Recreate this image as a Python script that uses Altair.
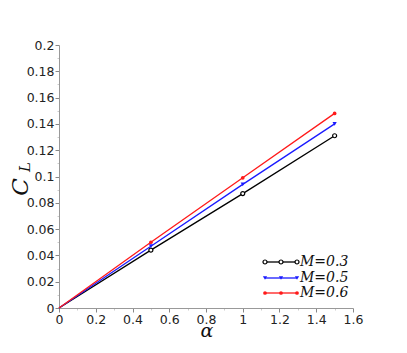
import altair as alt
import pandas as pd

alpha = [0, 0.5, 1.0, 1.5]
cl_03 = [0, 0.044, 0.087, 0.131]
cl_05 = [0, 0.047, 0.094, 0.140]
cl_06 = [0, 0.050, 0.099, 0.148]
labels = ["M=0.3", "M=0.5", "M=0.6"]
colors = ["#000000", "#1a1aff", "#ff1a1a"]
x_ticks = [round(0.1 * i, 1) for i in range(17)]
y_ticks = [round(0.01 * i, 2) for i in range(21)]

rows = []
for lab, vals in zip(labels, [cl_03, cl_05, cl_06]):
    for a, v in zip(alpha, vals):
        rows.append({"alpha": a, "cl": v, "series": lab})
df = pd.DataFrame(rows)

W, H = 294, 263
xs = alt.Scale(domain=[0, 1.6], nice=False, zero=True)
ys = alt.Scale(domain=[0, 0.2], nice=False, zero=True)
cs = alt.Scale(domain=labels, range=colors)

x_major = "abs(datum.value*5 - round(datum.value*5)) < 0.001"
y_major = "abs(datum.value*50 - round(datum.value*50)) < 0.001"


def make_axis(test, vals):
    return alt.Axis(
        values=vals, tickCount=100, domainColor="#999999", labelColor="#222222",
        labelFont="DejaVu Sans", labelFontSize=12.5, format="~g", grid=False,
        labelOverlap=False, labelPadding=1, labelFlush=False, title=None,
        tickColor={"condition": {"test": test, "value": "#888888"}, "value": "#cccccc"},
        tickSize={"condition": {"test": test, "value": 4}, "value": 2},
        labelExpr=f"({test}) ? datum.label : ''",
    )


xa = make_axis(x_major, x_ticks)
ya = make_axis(y_major, y_ticks)

base = alt.Chart(df)
lines = base.mark_line(strokeWidth=1.3).encode(
    x=alt.X("alpha:Q", scale=xs, axis=xa),
    y=alt.Y("cl:Q", scale=ys, axis=ya),
    color=alt.Color("series:N", scale=cs, legend=None),
)

pts_df = df[df["alpha"] > 0]
marker_styles = {
    "M=0.3": dict(shape="circle", filled=True, fill="white", stroke="black", strokeWidth=1.2, size=16, opacity=1),
    "M=0.5": dict(shape="triangle-down", filled=True, color=colors[1], size=18, opacity=1),
    "M=0.6": dict(shape="circle", filled=True, color=colors[2], size=14, opacity=1),
}
point_layers = []
for lab in labels:
    point_layers.append(
        alt.Chart(pts_df[pts_df.series == lab]).mark_point(**marker_styles[lab]).encode(
            x=alt.X("alpha:Q", scale=xs), y=alt.Y("cl:Q", scale=ys))
    )

# legend (manual, pixel positions inside plot area)
leg_y = [217, 233, 248]
leg_x0, leg_x1 = 206, 238
one = pd.DataFrame({"k": [0]})
legend_layers = []
for lab, col, yy in zip(labels, colors, leg_y):
    legend_layers.append(alt.Chart(one).mark_rule(color=col, strokeWidth=1.3).encode(
        x=alt.value(leg_x0), x2=alt.value(leg_x1), y=alt.value(yy)))
    for xx in [leg_x0, (leg_x0 + leg_x1) / 2, leg_x1]:
        legend_layers.append(alt.Chart(one).mark_point(**marker_styles[lab]).encode(
            x=alt.value(xx), y=alt.value(yy)))
    legend_layers.append(alt.Chart(pd.DataFrame({"t": [lab]})).mark_text(
        align="left", baseline="middle", font="DejaVu Serif", fontStyle="italic",
        fontSize=14, color="#111111").encode(x=alt.value(leg_x1 + 3), y=alt.value(yy), text="t:N"))

# axis titles
x_title = alt.Chart(pd.DataFrame({"t": ["α"]})).mark_text(
    font="DejaVu Serif", fontStyle="italic", fontSize=19, color="#111111",
    baseline="alphabetic", align="center").encode(x=alt.value(148), y=alt.value(H + 29), text="t:N")
y_title_c = alt.Chart(pd.DataFrame({"t": ["C"]})).mark_text(
    font="DejaVu Serif", fontStyle="italic", fontSize=23, color="#111111", angle=270,
    baseline="middle", align="center").encode(x=alt.value(-38), y=alt.value(142), text="t:N")
y_title_l = alt.Chart(pd.DataFrame({"t": ["L"]})).mark_text(
    font="DejaVu Serif", fontStyle="italic", fontSize=15, color="#111111", angle=270,
    baseline="middle", align="center").encode(x=alt.value(-34), y=alt.value(122), text="t:N")

chart = alt.layer(lines, *point_layers, *legend_layers, x_title, y_title_c, y_title_l).properties(
    width=W, height=H, padding={"left": 51, "top": 37, "right": 46, "bottom": 37},
    autosize=alt.AutoSizeParams(type="none"), background="white"
).configure_view(stroke=None)

chart.save("out.html", embed_options={"renderer": "svg", "actions": False})
